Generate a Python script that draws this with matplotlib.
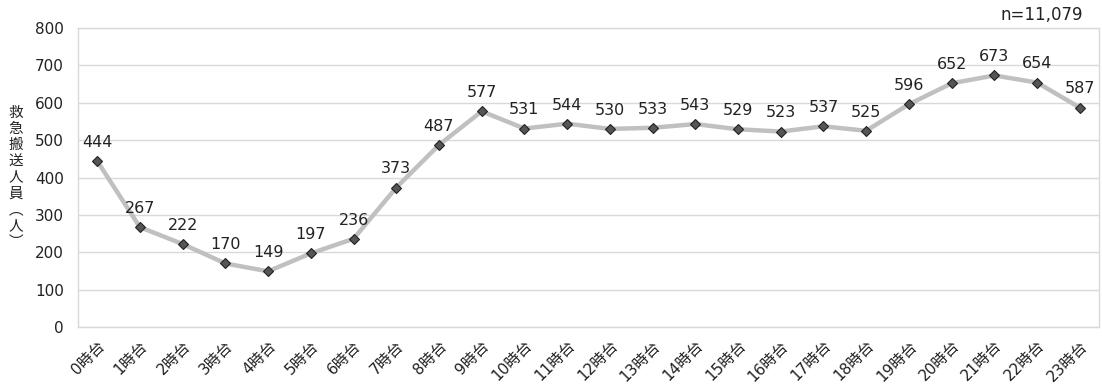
import matplotlib
matplotlib.use("Agg")
import matplotlib.pyplot as plt

hours = [f"{i}時台" for i in range(24)]
values = [444, 267, 222, 170, 149, 197, 236, 373, 487, 577, 531, 544,
          530, 533, 543, 529, 523, 537, 525, 596, 652, 673, 654, 587]
yticks = [0, 100, 200, 300, 400, 500, 600, 700, 800]
ylabel = "救急搬送人員︵人︶"
note = "n=11,079"

fams = ['DejaVu Sans', 'Noto Sans CJK JP']
plt.rcParams['font.family'] = fams

fig = plt.figure(figsize=(11.02, 3.9), dpi=100)
ax = fig.add_axes([78/1102, 1 - 327/390, (1099 - 78)/1102, (327 - 28)/390])

x = list(range(len(values)))
ax.plot(x, values, color='#c0c0c0', lw=3.2, zorder=2)
ax.plot(x, values, ls='none', marker='D', ms=5, mfc='#555555', mec='#222222', mew=0.8, zorder=3)
for xi, v in zip(x, values):
    ax.annotate(str(v), (xi, v), xytext=(0, 8), textcoords='offset points',
                ha='center', va='bottom', fontsize=11.5, color='#222222')

ax.set_xlim(-0.45, len(values) - 0.55)
ax.set_ylim(0, 800)
ax.set_yticks(yticks)
ax.set_yticklabels([str(t) for t in yticks], fontsize=11, color='#222222')
ax.set_xticks(x)
ax.set_xticklabels(hours, rotation=45, ha='right', rotation_mode='anchor', fontsize=11, color='#222222')
ax.tick_params(axis='y', length=0, pad=10)
ax.tick_params(axis='x', length=0, pad=8)
ax.grid(axis='y', color='#d9d9d9', lw=1)
ax.set_axisbelow(True)
for s in ['top', 'right', 'left', 'bottom']:
    ax.spines[s].set_color('#d9d9d9')
    ax.spines[s].set_linewidth(1)

fig.text(16/1102, 1 - 177/390, "\n".join(ylabel), ha='center', va='center',
         fontsize=10.5, linespacing=1.1, color='#222222')
fig.text(1083/1102, 1 - 15/390, note, ha='right', va='center', fontsize=12, color='#222222')

fig.savefig("out.png", dpi=100)
